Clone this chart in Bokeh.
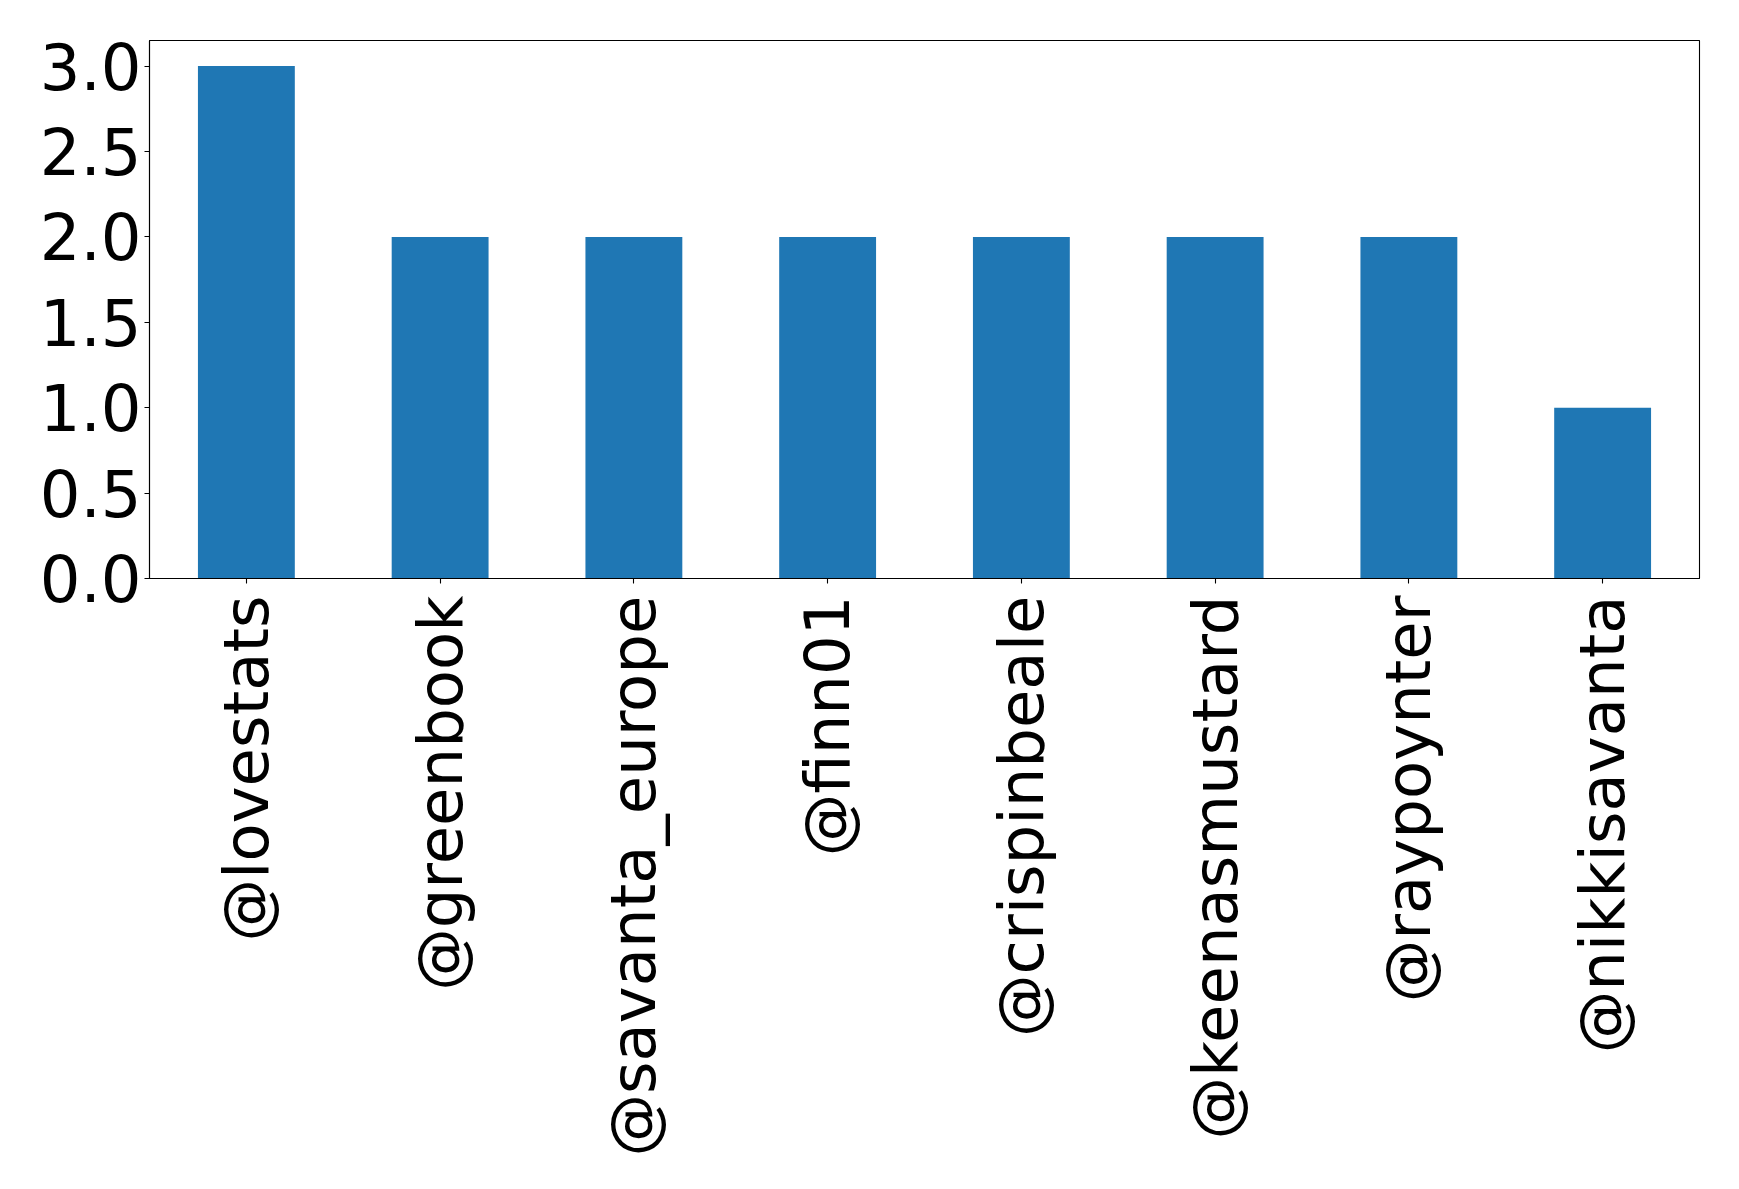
from bokeh.plotting import figure
from bokeh.models import Range1d, FactorRange, FixedTicker
from bokeh.embed import file_html
from bokeh.resources import INLINE
import math

handles = ["@lovestats", "@greenbook", "@savanta_europe", "@finn01",
           "@crispinbeale", "@keenasmustard", "@raypoynter", "@nikkisavanta"]
counts = [3, 2, 2, 2, 2, 2, 2, 1]
y_ticks = [0.0, 0.5, 1.0, 1.5, 2.0, 2.5, 3.0]

p = figure(x_range=FactorRange(*handles, range_padding=0),
           y_range=Range1d(0, 3.15),
           width=1731, height=1173,
           output_backend="svg", toolbar_location=None,
           min_border_left=149, min_border_right=32,
           min_border_top=40, min_border_bottom=595)
p.frame_width = 1550
p.frame_height = 538

p.vbar(x=handles, top=counts, width=0.5, color="#1f77b4", line_color=None)

p.xgrid.visible = False
p.ygrid.visible = False
p.outline_line_color = "black"
p.outline_line_width = 1.1

for ax in (p.xaxis[0], p.yaxis[0]):
    ax.axis_line_color = "black"
    ax.axis_line_width = 1.1
    ax.major_tick_line_color = "black"
    ax.major_tick_line_width = 1.1
    ax.major_tick_out = 5
    ax.major_tick_in = 0
    ax.minor_tick_line_color = None
    ax.major_label_text_font = "DejaVu Sans"
    ax.major_label_text_color = "black"

p.yaxis[0].major_label_text_font_size = "64px"
p.xaxis[0].major_label_text_font_size = "62.5px"
p.yaxis[0].major_label_standoff = 3
p.xaxis[0].major_label_standoff = 12
p.yaxis[0].ticker = FixedTicker(ticks=y_ticks)
p.yaxis[0].major_label_overrides = {t: f"{t:.1f}" for t in y_ticks}
p.xaxis[0].major_label_orientation = math.pi / 2
p.xaxis[0].group_text_font_size = "0px"

open("out.html", "w").write(file_html(p, INLINE))
